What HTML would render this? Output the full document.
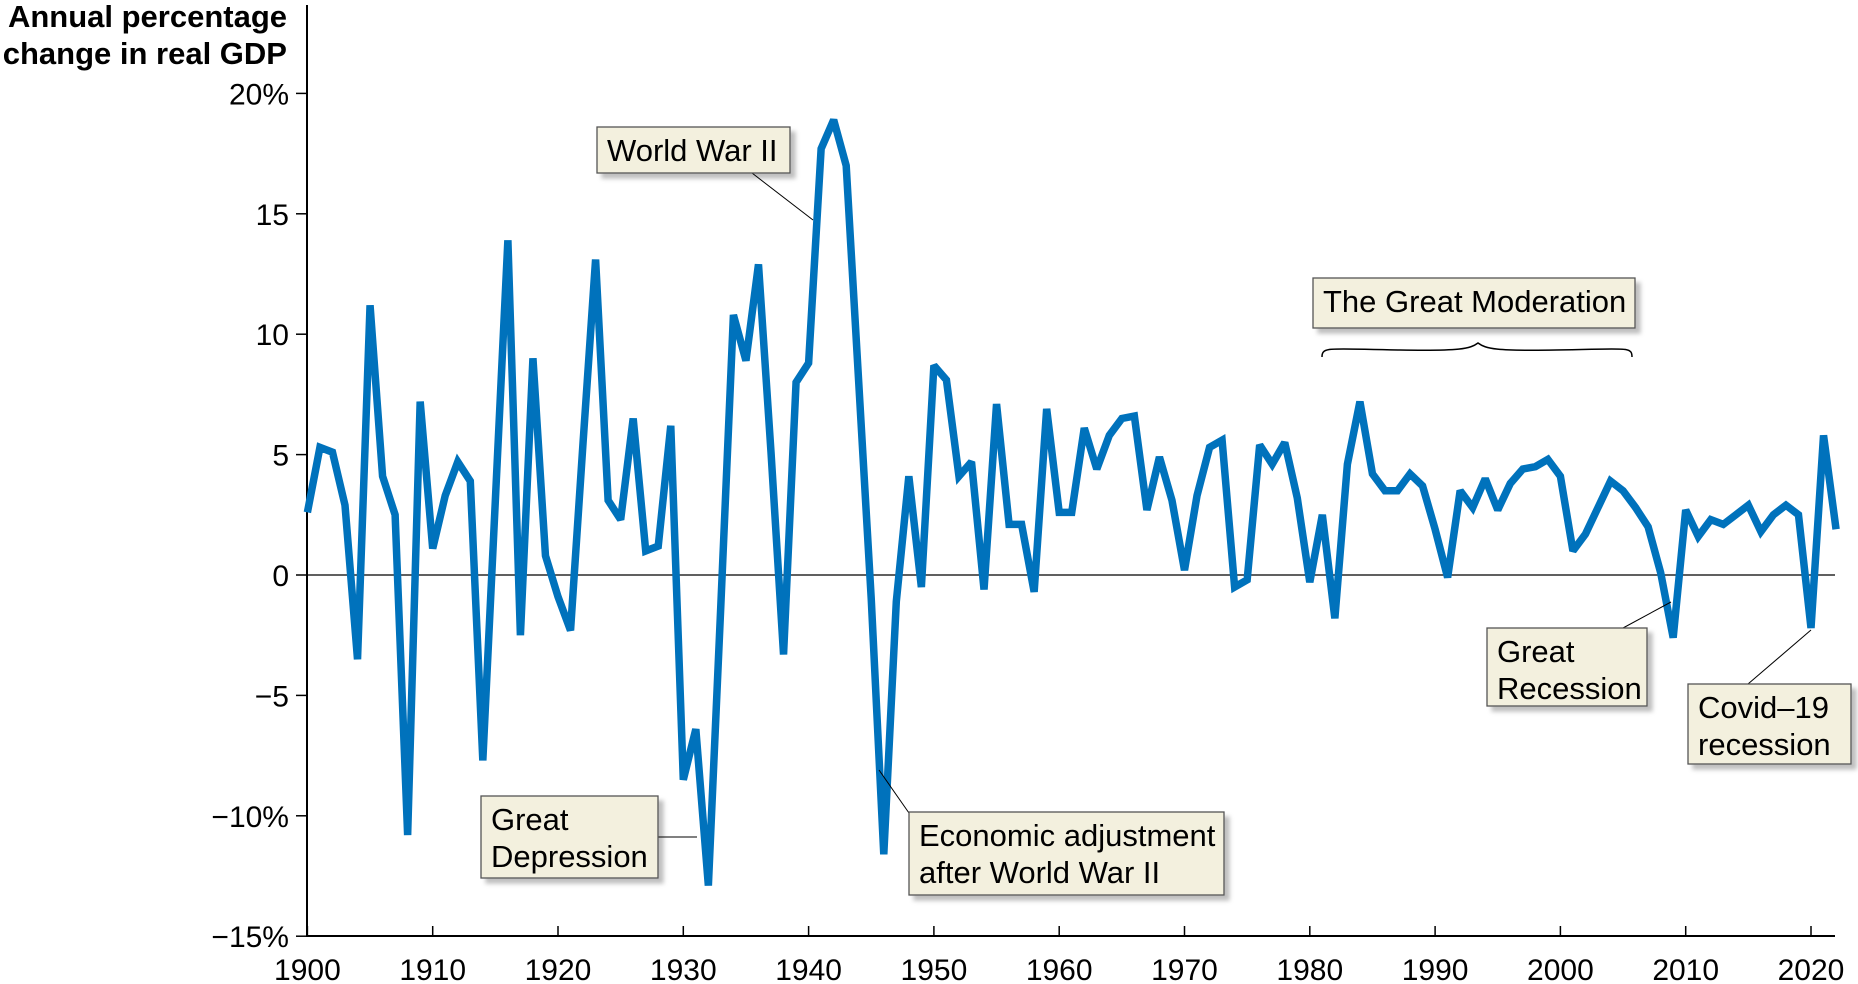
<!DOCTYPE html>
<html><head><meta charset="utf-8"><style>
body{margin:0;background:#fff;}
svg{display:block;font-family:"Liberation Sans",Arial,sans-serif;}
</style></head><body>
<svg id="chart" width="1858" height="984" viewBox="0 0 1858 984">
<defs><filter id="sh" x="-10%" y="-10%" width="130%" height="140%"><feDropShadow dx="5" dy="5" stdDeviation="2" flood-color="#000" flood-opacity="0.25"/></filter></defs>
<g font-weight="bold" font-size="31" text-anchor="end">
<text x="287" y="27">Annual percentage</text><text x="287" y="64">change in real GDP</text></g>
<g id="axes"></g>
<g id="series"></g>
<g id="ann" font-size="31"></g>
</svg>
<script>
const yTicks=[20,15,10,5,0,-5,-10,-15];
const yTickLabels=["20%","15","10","5","0","\u22125","\u221210%","\u221215%"];
const xTicks=[1900,1910,1920,1930,1940,1950,1960,1970,1980,1990,2000,2010,2020];
const years=[];for(let y=1900;y<=2022;y++)years.push(y);
const growth=[2.6,5.3,5.1,2.9,-3.5,11.2,4.1,2.5,-10.8,7.2,1.1,3.3,4.7,3.9,-7.7,3.1,13.9,-2.5,9.0,0.8,-0.9,-2.3,5.5,13.1,3.1,2.3,6.5,1.0,1.2,6.2,-8.5,-6.4,-12.9,-1.2,10.8,8.9,12.9,5.1,-3.3,8.0,8.8,17.7,18.9,17.0,8.0,-1.0,-11.6,-1.1,4.1,-0.5,8.7,8.1,4.1,4.7,-0.6,7.1,2.1,2.1,-0.7,6.9,2.6,2.6,6.1,4.4,5.8,6.5,6.6,2.7,4.9,3.1,0.2,3.3,5.3,5.6,-0.5,-0.2,5.4,4.6,5.5,3.2,-0.3,2.5,-1.8,4.6,7.2,4.2,3.5,3.5,4.2,3.7,1.9,-0.1,3.5,2.8,4.0,2.7,3.8,4.4,4.5,4.8,4.1,1.0,1.7,2.8,3.9,3.5,2.8,2.0,0.1,-2.6,2.7,1.6,2.3,2.1,2.5,2.9,1.8,2.5,2.9,2.5,-2.2,5.8,1.9];
const NS="http://www.w3.org/2000/svg";
const X=yr=>307.4+(yr-1900)*12.53;
const Y=v=>575-v*24.08;
function mk(tag,attrs,parent,txt){const e=document.createElementNS(NS,tag);for(const k in attrs)e.setAttribute(k,attrs[k]);if(txt!==undefined)e.textContent=txt;parent.appendChild(e);return e;}
const ax=document.getElementById('axes');
let a=mk('line',{x1:307,y1:5,x2:307,y2:936,stroke:'#000','stroke-width':2},ax);


a=mk('line',{x1:306,y1:936,x2:1835,y2:936,stroke:'#000','stroke-width':2},ax);


a=mk('line',{x1:307,y1:Y(0),x2:1835,y2:Y(0),stroke:'#000','stroke-width':1.3},ax);


yTicks.forEach((v,i)=>{
 mk('line',{x1:296,y1:Y(v),x2:307,y2:Y(v),stroke:'#000','stroke-width':1.5},ax);
 const t=mk('text',{x:289,y:Y(v)+11,'font-size':30,'text-anchor':'end'},ax,yTickLabels[i]);
 
 
});
xTicks.forEach(v=>{
 mk('line',{x1:X(v),y1:926,x2:X(v),y2:936,stroke:'#000','stroke-width':1.5},ax);
 const t=mk('text',{x:X(v),y:980,'font-size':30,'text-anchor':'middle'},ax,String(v));
 
 
});
const p=mk('polyline',{points:years.map((y,i)=>X(y)+','+Y(growth[i])).join(' '),fill:'none',stroke:'#0072bc','stroke-width':7.5,'stroke-linejoin':'miter','stroke-miterlimit':2.5},document.getElementById('series'));


const an=document.getElementById('ann');
function box(name,x,y,w,h,lines,lx1,ly1,lx2,ly2){
 if(lx1!==null){const l=mk('line',{x1:lx1,y1:ly1,x2:lx2,y2:ly2,stroke:'#000','stroke-width':1},an);
 
 }
 const g=mk('g',{},an);
 
 
 mk('rect',{x:x,y:y,width:w,height:h,fill:'#f3f0de',stroke:'#555','stroke-width':1.3,filter:'url(#sh)'},g);
 lines.forEach((s,i)=>mk('text',{x:x+10,y:y+34+i*37},g,s));
}
box('world-war-ii-label',597,127,193,46,['World War II'],752,173,813,220);
box('great-moderation-label',1313,278,322,50,['The Great Moderation'],null);
box('great-depression-label',481,796,177,82,['Great','Depression'],658,837,697,837);
box('economic-adjustment-label',909,812,315,83,['Economic adjustment','after World War II'],909,813,879,770);
box('great-recession-label',1487,628,160,78,['Great','Recession'],1623,628,1671,602);
box('covid-recession-label',1688,684,163,80,['Covid\u201319','recession'],1748,684,1811,630);
const br=mk('path',{d:'M1322,357 C1322,346 1330,349 1400,350 C1460,351 1470,349 1478,343 C1486,349 1496,351 1556,350 C1626,349 1632,346 1632,357',fill:'none',stroke:'#000','stroke-width':1.5},an);


</script>
</body></html>
